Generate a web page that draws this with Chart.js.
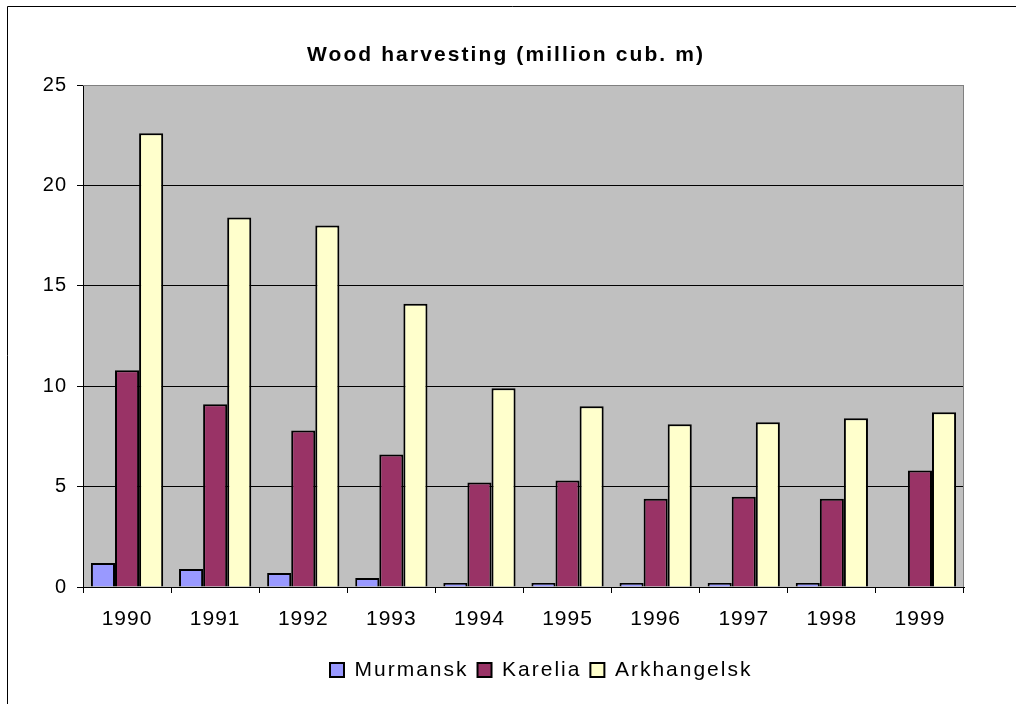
<!DOCTYPE html>
<html><head><meta charset="utf-8">
<script src="https://cdn.jsdelivr.net/npm/chart.js@4.4.1/dist/chart.umd.min.js"></script>
<style>html,body{margin:0;padding:0;background:#fff;overflow:hidden}canvas{display:block}</style>
</head><body>
<canvas id="c" width="1016" height="704"></canvas>
<script>
const categories = ['1990','1991','1992','1993','1994','1995','1996','1997','1998','1999'];
const murmansk = [1.2, 0.9, 0.7, 0.45, 0.2, 0.2, 0.2, 0.2, 0.2, 0];
const karelia = [10.8, 9.1, 7.8, 6.6, 5.2, 5.3, 4.4, 4.5, 4.4, 5.8];
const arkhangelsk = [22.6, 18.4, 18.0, 14.1, 9.9, 9.0, 8.1, 8.2, 8.4, 8.7];
const yMin = 0, yMax = 25, yStep = 5;
const chartTitle = 'Wood harvesting (million cub. m)';

const TITLE_LS = '2.1px', LEGEND_LS = '2px', TICK_LS = '1px';
Chart.defaults.font.family = 'Arial, "Liberation Sans", sans-serif';
Chart.defaults.color = '#000';

const excelLook = {
  id: 'excelLook',
  afterInit(chart) {
    const ctx = chart.ctx;
    const wrap = (obj, name, ls) => {
      const orig = obj[name];
      obj[name] = function (...a) {
        const prev = ctx.letterSpacing;
        ctx.letterSpacing = ls;
        const r = orig.apply(this, a);
        ctx.letterSpacing = prev;
        return r;
      };
    };
    wrap(chart.titleBlock, 'draw', TITLE_LS);
    wrap(chart.titleBlock, 'fit', TITLE_LS);
    wrap(chart.legend, 'draw', LEGEND_LS);
    wrap(chart.legend, 'fit', LEGEND_LS);
  },
  afterLayout(chart) {
    const t = chart.titleBlock;
    t.left = 506 - 450; t.right = 506 + 450;
    const lg = chart.legend;
    const pad = lg.options.labels.padding;
    const x0 = (lg.left + pad + lg.right - lg.lineWidths[0]) / 2;
    const dx = 330 - x0;
    lg.left += dx; lg.right += dx;
  },
  beforeDraw(chart) {
    const {ctx, chartArea: a} = chart;
    ctx.save();
    ctx.fillStyle = '#fff';
    ctx.fillRect(0, 0, chart.width, chart.height);
    ctx.strokeStyle = '#000'; ctx.lineWidth = 1;
    ctx.beginPath();
    ctx.moveTo(7.5, chart.height + 5); ctx.lineTo(7.5, 6.5); ctx.lineTo(chart.width + 5, 6.5);
    ctx.stroke();
    ctx.fillStyle = '#C0C0C0';
    ctx.fillRect(a.left, a.top, a.right - a.left, a.bottom - a.top);
    ctx.restore();
    ctx.letterSpacing = TICK_LS;
  },
  beforeDatasetsDraw(chart) {
    const {ctx, chartArea: a} = chart;
    ctx.save();
    ctx.strokeStyle = '#808080'; ctx.lineWidth = 1;
    ctx.beginPath();
    ctx.moveTo(a.left, a.top + 0.5); ctx.lineTo(a.right - 0.5, a.top + 0.5); ctx.lineTo(a.right - 0.5, a.bottom);
    ctx.stroke();
    ctx.restore();
  },
  afterDraw(chart) { chart.ctx.letterSpacing = '0px'; }
};

const barStyle = {borderColor: '#000', borderWidth: 2, categoryPercentage: 0.82, barPercentage: 1.0};

new Chart(document.getElementById('c'), {
  type: 'bar',
  data: {
    labels: categories,
    datasets: [
      Object.assign({label: 'Murmansk', data: murmansk, backgroundColor: '#9999FF'}, barStyle),
      Object.assign({label: 'Karelia', data: karelia, backgroundColor: '#993366'}, barStyle),
      Object.assign({label: 'Arkhangelsk', data: arkhangelsk, backgroundColor: '#FFFFCC'}, barStyle)
    ]
  },
  options: {
    responsive: false,
    devicePixelRatio: 1,
    animation: false,
    layout: {padding: {left: 0, right: 52, top: 0, bottom: 13.5}},
    plugins: {
      tooltip: {enabled: false},
      title: {
        display: true, text: chartTitle, color: '#000',
        font: {size: 21, weight: 'bold', lineHeight: 1.2},
        padding: {top: 42.4, bottom: 17.4}
      },
      legend: {
        display: true, position: 'bottom',
        labels: {boxWidth: 14, boxHeight: 14, padding: 9, color: '#000', font: {size: 21}}
      }
    },
    scales: {
      x: {
        grid: {offset: true, drawOnChartArea: false, tickLength: 6, color: '#000'},
        border: {display: true, color: '#000', width: 1},
        ticks: {padding: 13.4, font: {size: 21}, color: '#000', maxRotation: 0, autoSkip: false},
        afterFit(s) { s.height = 63.5; }
      },
      y: {
        min: yMin, max: yMax,
        grid: {color: (c) => (c.index === 5 ? '#808080' : '#000'), tickColor: '#000', tickLength: 6},
        border: {display: true, color: '#000', width: 1},
        ticks: {stepSize: yStep, padding: 10, font: {size: 20}, color: '#000'},
        afterFit(s) { s.width = 83; }
      }
    }
  },
  plugins: [excelLook]
});
</script>
</body></html>
